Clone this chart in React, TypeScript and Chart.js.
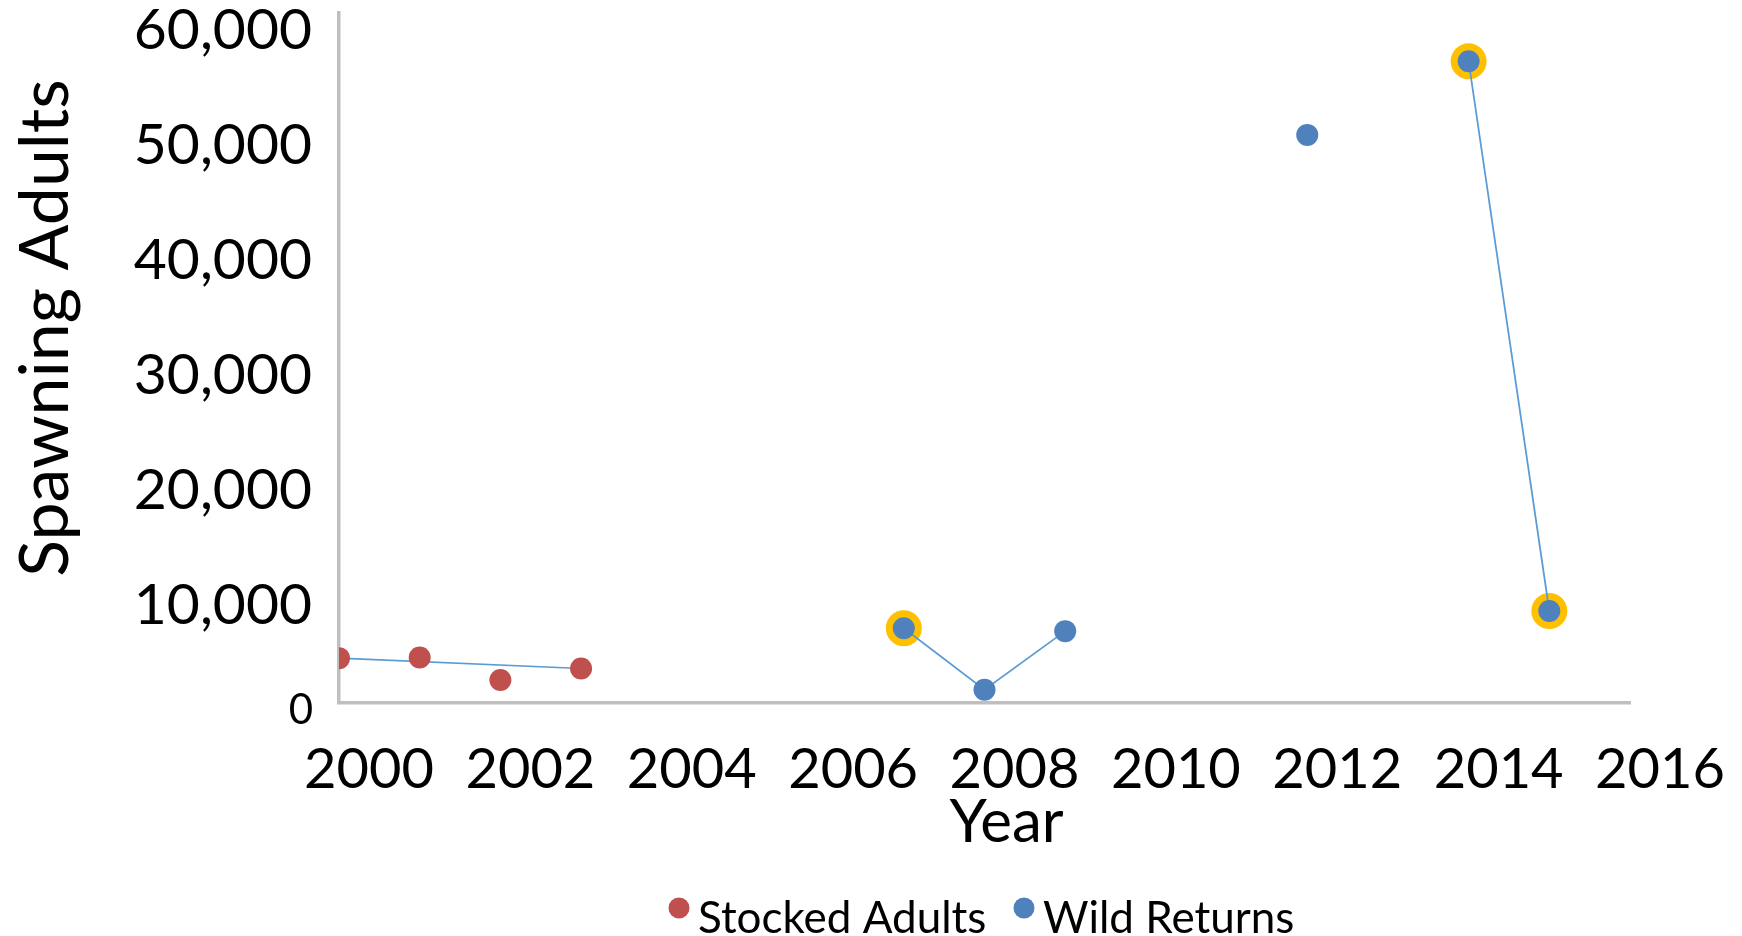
import React, { useEffect, useRef } from "react";
import { Chart, registerables } from "chart.js";

Chart.register(...registerables);

const stockedYears = [2000, 2001, 2002, 2003];
const stockedValues = [3900, 3950, 2000, 3000];
const stockedLineYears = [2000, 2003];
const stockedLineValues = [3900, 3000];

const wildYears = [2007, 2008, 2009, 2012, 2014, 2015];
const wildValues = [6500, 1150, 6250, 49400, 55800, 8000];
const wildLinked = [true, true, true, false, true, true];
const highlightYears = [2007, 2014, 2015];

const xTicks = { min: 2000, max: 2016, step: 2 };
const yTicks = { min: 0, max: 60000, step: 10000 };

const xTitle = "Year";
const yTitle = "Spawning Adults";
const legendStocked = "Stocked Adults";
const legendWild = "Wild Returns";

const RED = "#C0504D";
const BLUE = "#4F81BD";
const FONT = "Lato, 'Open Sans', sans-serif";

export default function App() {
  const ref = useRef<HTMLCanvasElement | null>(null);

  useEffect(() => {
    document.body.style.margin = "0";
    const canvas = ref.current;
    if (!canvas) return;

    const stockedPts = stockedYears.map((x, i) => ({ x, y: stockedValues[i] }));
    const stockedLinePts = stockedLineYears.map((x, i) => ({ x, y: stockedLineValues[i] }));
    const wildPts = wildYears.map((x, i) => ({ x, y: wildValues[i] }));
    const wildLinePts = wildYears.map((x, i) => ({ x, y: wildLinked[i] ? wildValues[i] : null }));
    const highlightPts = highlightYears.map((x) => ({ x, y: wildValues[wildYears.indexOf(x)] }));

    const extras = {
      id: "extras",
      afterDraw(chart: any) {
        const { ctx, chartArea } = chart;
        const yScale = chart.scales.y;
        ctx.save();
        ctx.fillStyle = "#000";
        // axis titles
        ctx.textAlign = "center";
        ctx.textBaseline = "middle";
        ctx.font = `60px ${FONT}`;
        ctx.fillText(xTitle, (chartArea.left + chartArea.right) / 2 + 22, chartArea.bottom + 120);
        ctx.save();
        ctx.font = `68px ${FONT}`;
        ctx.translate(46, (chartArea.top + chartArea.bottom) / 2 - 30);
        ctx.rotate(-Math.PI / 2);
        ctx.fillText(yTitle, 0, 0);
        ctx.restore();
        // zero tick label (smaller, like the reference)
        ctx.textAlign = "right";
        ctx.textBaseline = "middle";
        ctx.font = `42px ${FONT}`;
        ctx.fillText(String(yTicks.min), chartArea.left - 26, yScale.getPixelForValue(yTicks.min) + 7);
        // legend
        ctx.textAlign = "left";
        ctx.textBaseline = "alphabetic";
        ctx.font = `44px ${FONT}`;
        const items = [
          { label: legendStocked, color: RED, x: 679 },
          { label: legendWild, color: BLUE, x: 1024 },
        ];
        for (const it of items) {
          ctx.beginPath();
          ctx.fillStyle = it.color;
          ctx.arc(it.x, 908, 10.5, 0, Math.PI * 2);
          ctx.fill();
          ctx.fillStyle = "#000";
          ctx.fillText(it.label, it.x + 19, 933);
        }
        ctx.restore();
      },
    };

    const chart = new Chart(canvas, {
      type: "scatter",
      data: {
        datasets: [
          {
            label: legendStocked,
            data: stockedPts,
            backgroundColor: RED,
            borderColor: RED,
            pointRadius: 11,
            pointHoverRadius: 11,
            pointBorderWidth: 0,
            order: 1,
          },
          {
            label: legendWild,
            data: wildPts,
            backgroundColor: BLUE,
            borderColor: BLUE,
            pointRadius: 11,
            pointHoverRadius: 11,
            pointBorderWidth: 0,
            order: 1,
          },
          {
            label: "highlight",
            data: highlightPts,
            backgroundColor: "#FFC000",
            borderColor: "#FFC000",
            pointRadius: 18,
            pointHoverRadius: 18,
            pointBorderWidth: 0,
            order: 3,
          },
          {
            label: "stockedLine",
            data: stockedLinePts,
            showLine: true,
            borderColor: "#5B9BD5",
            borderWidth: 1.75,
            pointRadius: 0,
            order: 2,
          },
          {
            label: "wildLine",
            data: wildLinePts,
            showLine: true,
            spanGaps: false,
            borderColor: "#5B9BD5",
            borderWidth: 1.75,
            pointRadius: 0,
            order: 2,
          },
        ] as any,
      },
      options: {
        animation: false,
        responsive: false,
        maintainAspectRatio: false,
        layout: { autoPadding: false, padding: { top: 13, right: 112, left: 0, bottom: 0 } },
        plugins: {
          tooltip: { enabled: false },
          legend: { display: false },
        },
        scales: {
          x: {
            type: "linear",
            min: xTicks.min,
            max: xTicks.max,
            grid: { display: false, drawTicks: false },
            border: { display: true, color: "#BFBFBF", width: 3.5 },
            ticks: {
              stepSize: xTicks.step,
              color: "#000",
              font: { family: FONT, size: 56 },
              padding: 33,
              labelOffset: 30,
              maxRotation: 0,
              autoSkip: false,
              callback: (v: any) => String(v),
            },
            afterFit: (scale: any) => {
              scale.height = 936 - 703;
              scale.paddingLeft = 0;
              scale.paddingRight = 0;
            },
          },
          y: {
            type: "linear",
            min: yTicks.min,
            max: yTicks.max,
            grid: { display: false, drawTicks: false },
            border: { display: true, color: "#BFBFBF", width: 3.5 },
            ticks: {
              stepSize: yTicks.step,
              color: "#000",
              font: { family: FONT, size: 57 },
              padding: 27,
              labelOffset: 17.5,
              autoSkip: false,
              callback: (v: any) => (Number(v) === yTicks.min ? "" : Number(v).toLocaleString("en-US")),
            },
            afterFit: (scale: any) => {
              scale.width = 339;
              scale.paddingTop = 0;
              scale.paddingBottom = 0;
            },
          },
        },
      },
      plugins: [extras],
    });

    return () => chart.destroy();
  }, []);

  return (
    <div style={{ width: 1742, height: 936, background: "#fff" }}>
      <canvas ref={ref} width={1742} height={936} style={{ display: "block", width: 1742, height: 936 }} />
    </div>
  );
}
